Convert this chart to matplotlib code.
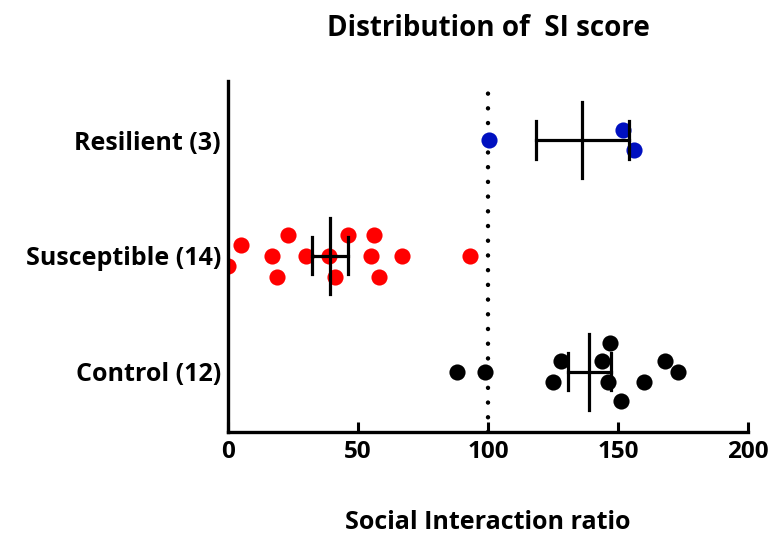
#scatter of SI score per group with mean +/- SEM
import matplotlib
matplotlib.use('Agg')
import matplotlib.pyplot as plt
import numpy as np

plt.rcParams['font.family'] = ['Open Sans', 'DejaVu Sans']
plt.rcParams['font.weight'] = 'bold'

groups = ['Control (12)', 'Susceptible (14)', 'Resilient (3)']
colors = ['black', 'red', '#0010c0']

# SI ratio values, with their vertical scatter offsets
control = [88, 99, 125, 128, 144, 146, 147, 151, 160, 168, 173]
control_off = [0, 0, -0.09, 0.09, 0.09, -0.09, 0.25, -0.25, -0.09, 0.09, 0]
suscept = [0, 5, 23, 17, 19, 30, 39, 41, 46, 56, 55, 58, 67, 93]
suscept_off = [-0.09, 0.09, 0.18, 0, -0.18, 0, 0, -0.18, 0.18, 0.18, 0, -0.18, 0, 0]
resil = [100.5, 152, 156]
resil_off = [0, 0.09, -0.09]

data = [control, suscept, resil]
offs = [control_off, suscept_off, resil_off]

fig = plt.figure(figsize=(7.71, 5.36), dpi=100)
ax = fig.add_axes([0.2957, 0.194, 0.6745, 0.655])

ax.axvline(100, color='black', lw=3.2, ls=(0, (0.01, 3.3)),
           dash_capstyle='round', zorder=1)

for i, (vals, off, c) in enumerate(zip(data, offs, colors)):
    vals = np.array(vals, dtype=float)
    ax.scatter(vals, i + np.array(off), s=135, color=c, zorder=3,
               linewidths=0)
    m = vals.mean()
    sem = vals.std(ddof=1) / np.sqrt(len(vals))
    ax.plot([m - sem, m + sem], [i, i], color='black', lw=2.3, zorder=4)
    ax.plot([m, m], [i - 0.33, i + 0.33], color='black', lw=2.3, zorder=4)
    for e in (m - sem, m + sem):
        ax.plot([e, e], [i - 0.16, i + 0.16], color='black', lw=2.3, zorder=4)

ax.set_xlim(0, 200)
ax.set_ylim(-0.52, 2.51)
ax.set_xticks([0, 50, 100, 150, 200])
ax.set_yticks([0, 1, 2])
ax.set_yticklabels(groups, fontsize=18, fontweight='bold')
ax.tick_params(axis='x', direction='in', length=7, width=2.2,
               labelsize=17.5, pad=6)
ax.tick_params(axis='y', length=0, pad=5)
for lab in ax.get_xticklabels():
    lab.set_fontweight('bold')

for s in ['top', 'right']:
    ax.spines[s].set_visible(False)
for s in ['left', 'bottom']:
    ax.spines[s].set_linewidth(2.4)
ax.spines['left'].set_zorder(5)

fig.text(0.633, 0.947, 'Distribution of  SI score', ha='center',
         va='center', fontsize=20, fontweight='bold')
fig.text(0.633, 0.025, 'Social Interaction ratio', ha='center',
         va='center', fontsize=18, fontweight='bold')

fig.savefig('out.png', dpi=100)
